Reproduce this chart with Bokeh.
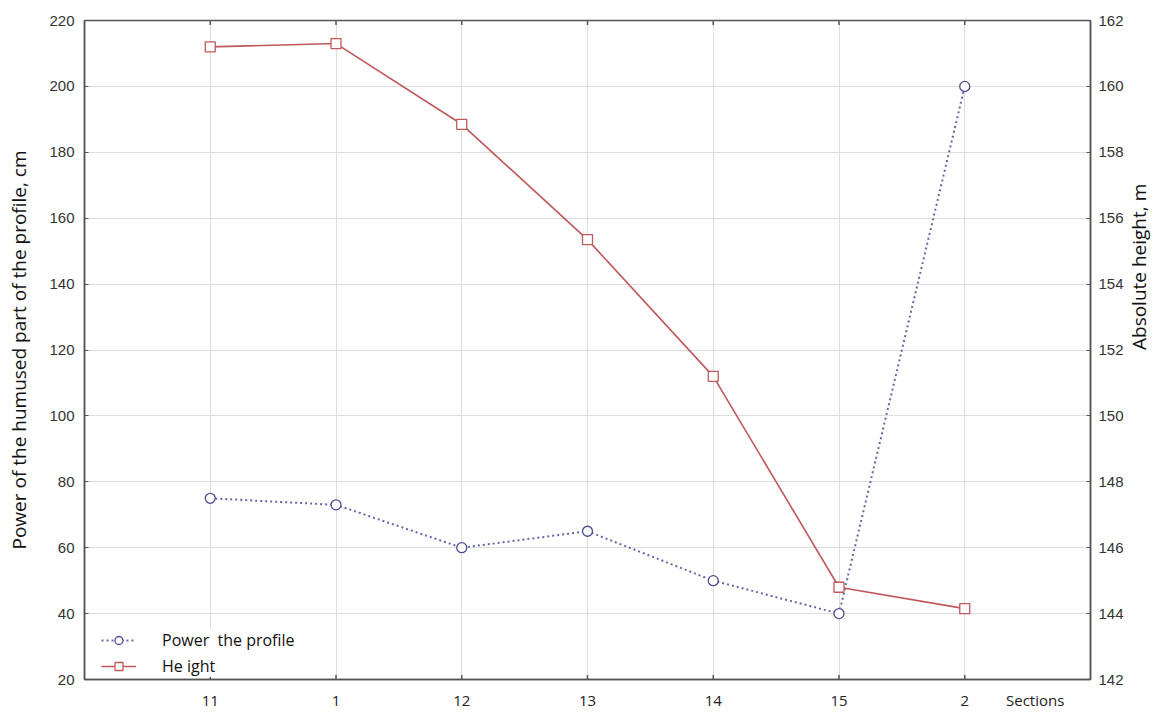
import math
from bokeh.plotting import figure
from bokeh.models import Range1d, LinearAxis, FixedTicker, Legend, LegendItem
from bokeh.embed import file_html
from bokeh.resources import INLINE

sections = ["11", "1", "12", "13", "14", "15", "2"]
power = [75, 73, 60, 65, 50, 40, 200]
height = [161.2, 161.3, 158.85, 155.35, 151.2, 144.8, 144.15]
x_title = "Sections"

xs = list(range(1, len(sections) + 1))
x_lo, x_hi = 0, 8
y_lo, y_hi = 20, 220
h_lo, h_hi = 142, 162
title_pos = 7.56

p = figure(width=1167, height=712, output_backend="svg", toolbar_location=None,
           x_range=Range1d(x_lo, x_hi), y_range=Range1d(y_lo, y_hi),
           min_border_left=84, min_border_right=40, min_border_top=20, min_border_bottom=20)
p.extra_y_ranges = {"h": Range1d(h_lo, h_hi)}

p.outline_line_color = "#555555"
p.outline_line_width = 1.5
p.background_fill_color = "white"
p.border_fill_color = "white"

tick_font = "Liberation Sans"
lab_font = "Open Sans"

# x axis (tick labels + the "Sections" title as an extra label)
p.xaxis.ticker = FixedTicker(ticks=xs + [title_pos])
ov = {i: s for i, s in zip(xs, sections)}
ov[title_pos] = x_title
p.xaxis.major_label_overrides = ov
p.xaxis.major_label_text_font = lab_font
p.xaxis.major_label_text_font_size = "15px"
p.xaxis.major_label_text_color = "#222222"
p.xaxis.major_tick_line_color = None
p.xaxis.minor_tick_line_color = None
p.xaxis.axis_line_color = "#555555"
p.xaxis.axis_line_width = 1.5
p.xaxis.major_label_standoff = 4

# left y axis
p.yaxis.ticker = FixedTicker(ticks=list(range(y_lo, y_hi + 1, 20)))
p.yaxis.axis_label = "Power of the humused part of the profile, cm"
p.yaxis.axis_label_text_font = lab_font
p.yaxis.axis_label_text_font_size = "19px"
p.yaxis.axis_label_text_font_style = "normal"
p.yaxis.axis_label_text_color = "#111111"
p.yaxis.axis_label_standoff = 14
p.yaxis.major_label_text_font = tick_font
p.yaxis.major_label_text_font_size = "15px"
p.yaxis.major_label_text_color = "#333333"
p.yaxis.major_tick_in = 4
p.yaxis.major_tick_out = 0
p.yaxis.minor_tick_line_color = None
p.yaxis.axis_line_color = "#555555"
p.yaxis.axis_line_width = 1.5
p.yaxis.major_tick_line_color = "#555555"
p.yaxis.major_label_standoff = 10

# right y axis
ax_r = LinearAxis(y_range_name="h", ticker=FixedTicker(ticks=list(range(h_lo, h_hi + 1, 2))))
ax_r.axis_label = "Absolute height, m"
ax_r.axis_label_orientation = math.pi / 2
ax_r.axis_label_text_font = lab_font
ax_r.axis_label_text_font_size = "19px"
ax_r.axis_label_text_font_style = "normal"
ax_r.axis_label_text_color = "#111111"
ax_r.axis_label_standoff = 12
ax_r.major_label_text_font = tick_font
ax_r.major_label_text_font_size = "15px"
ax_r.major_label_text_color = "#333333"
ax_r.major_tick_in = 4
ax_r.major_tick_out = 0
ax_r.minor_tick_line_color = None
ax_r.axis_line_color = "#555555"
ax_r.axis_line_width = 1.5
ax_r.major_tick_line_color = "#555555"
ax_r.major_label_standoff = 8
p.add_layout(ax_r, "right")

p.xgrid.ticker = FixedTicker(ticks=xs)
p.xgrid.grid_line_color = "#dddddd"
p.ygrid.grid_line_color = "#dddddd"

# inside tick marks on bottom and top edges (clipped half-dashes)
p.scatter(xs, [y_lo] * len(xs), marker="dash", angle=math.pi / 2, size=9,
          line_color="#555555", line_width=1.5)
p.scatter(xs, [y_hi] * len(xs), marker="dash", angle=math.pi / 2, size=9,
          line_color="#555555", line_width=1.5)

# series
blue = "#6666aa"
red = "#c0585a"
l1 = p.line(xs, power, line_color=blue, line_width=2, line_dash="2 3")
m1 = p.scatter(xs, power, marker="circle", size=10, line_color="#4a4a96", fill_color="white", line_width=1.3)
l2 = p.line(xs, height, y_range_name="h", line_color=red, line_width=1.6)
m2 = p.scatter(xs, height, y_range_name="h", marker="square", size=10, line_color=red, fill_color="white", line_width=1.3)

legend = Legend(items=[LegendItem(label="Power  the profile", renderers=[l1, m1]),
                       LegendItem(label="He ight", renderers=[l2, m2])],
                location=(17, 2), orientation="vertical")
legend.label_text_font = lab_font
legend.label_text_font_size = "16px"
legend.label_text_color = "#111111"
legend.glyph_width = 35
legend.glyph_height = 20
legend.label_height = 20
legend.spacing = 4
legend.padding = 4
legend.label_standoff = 26
legend.border_line_color = None
legend.background_fill_color = "white"
legend.background_fill_alpha = 1.0
p.add_layout(legend, "center")

open("out.html", "w").write(file_html(p, INLINE))
